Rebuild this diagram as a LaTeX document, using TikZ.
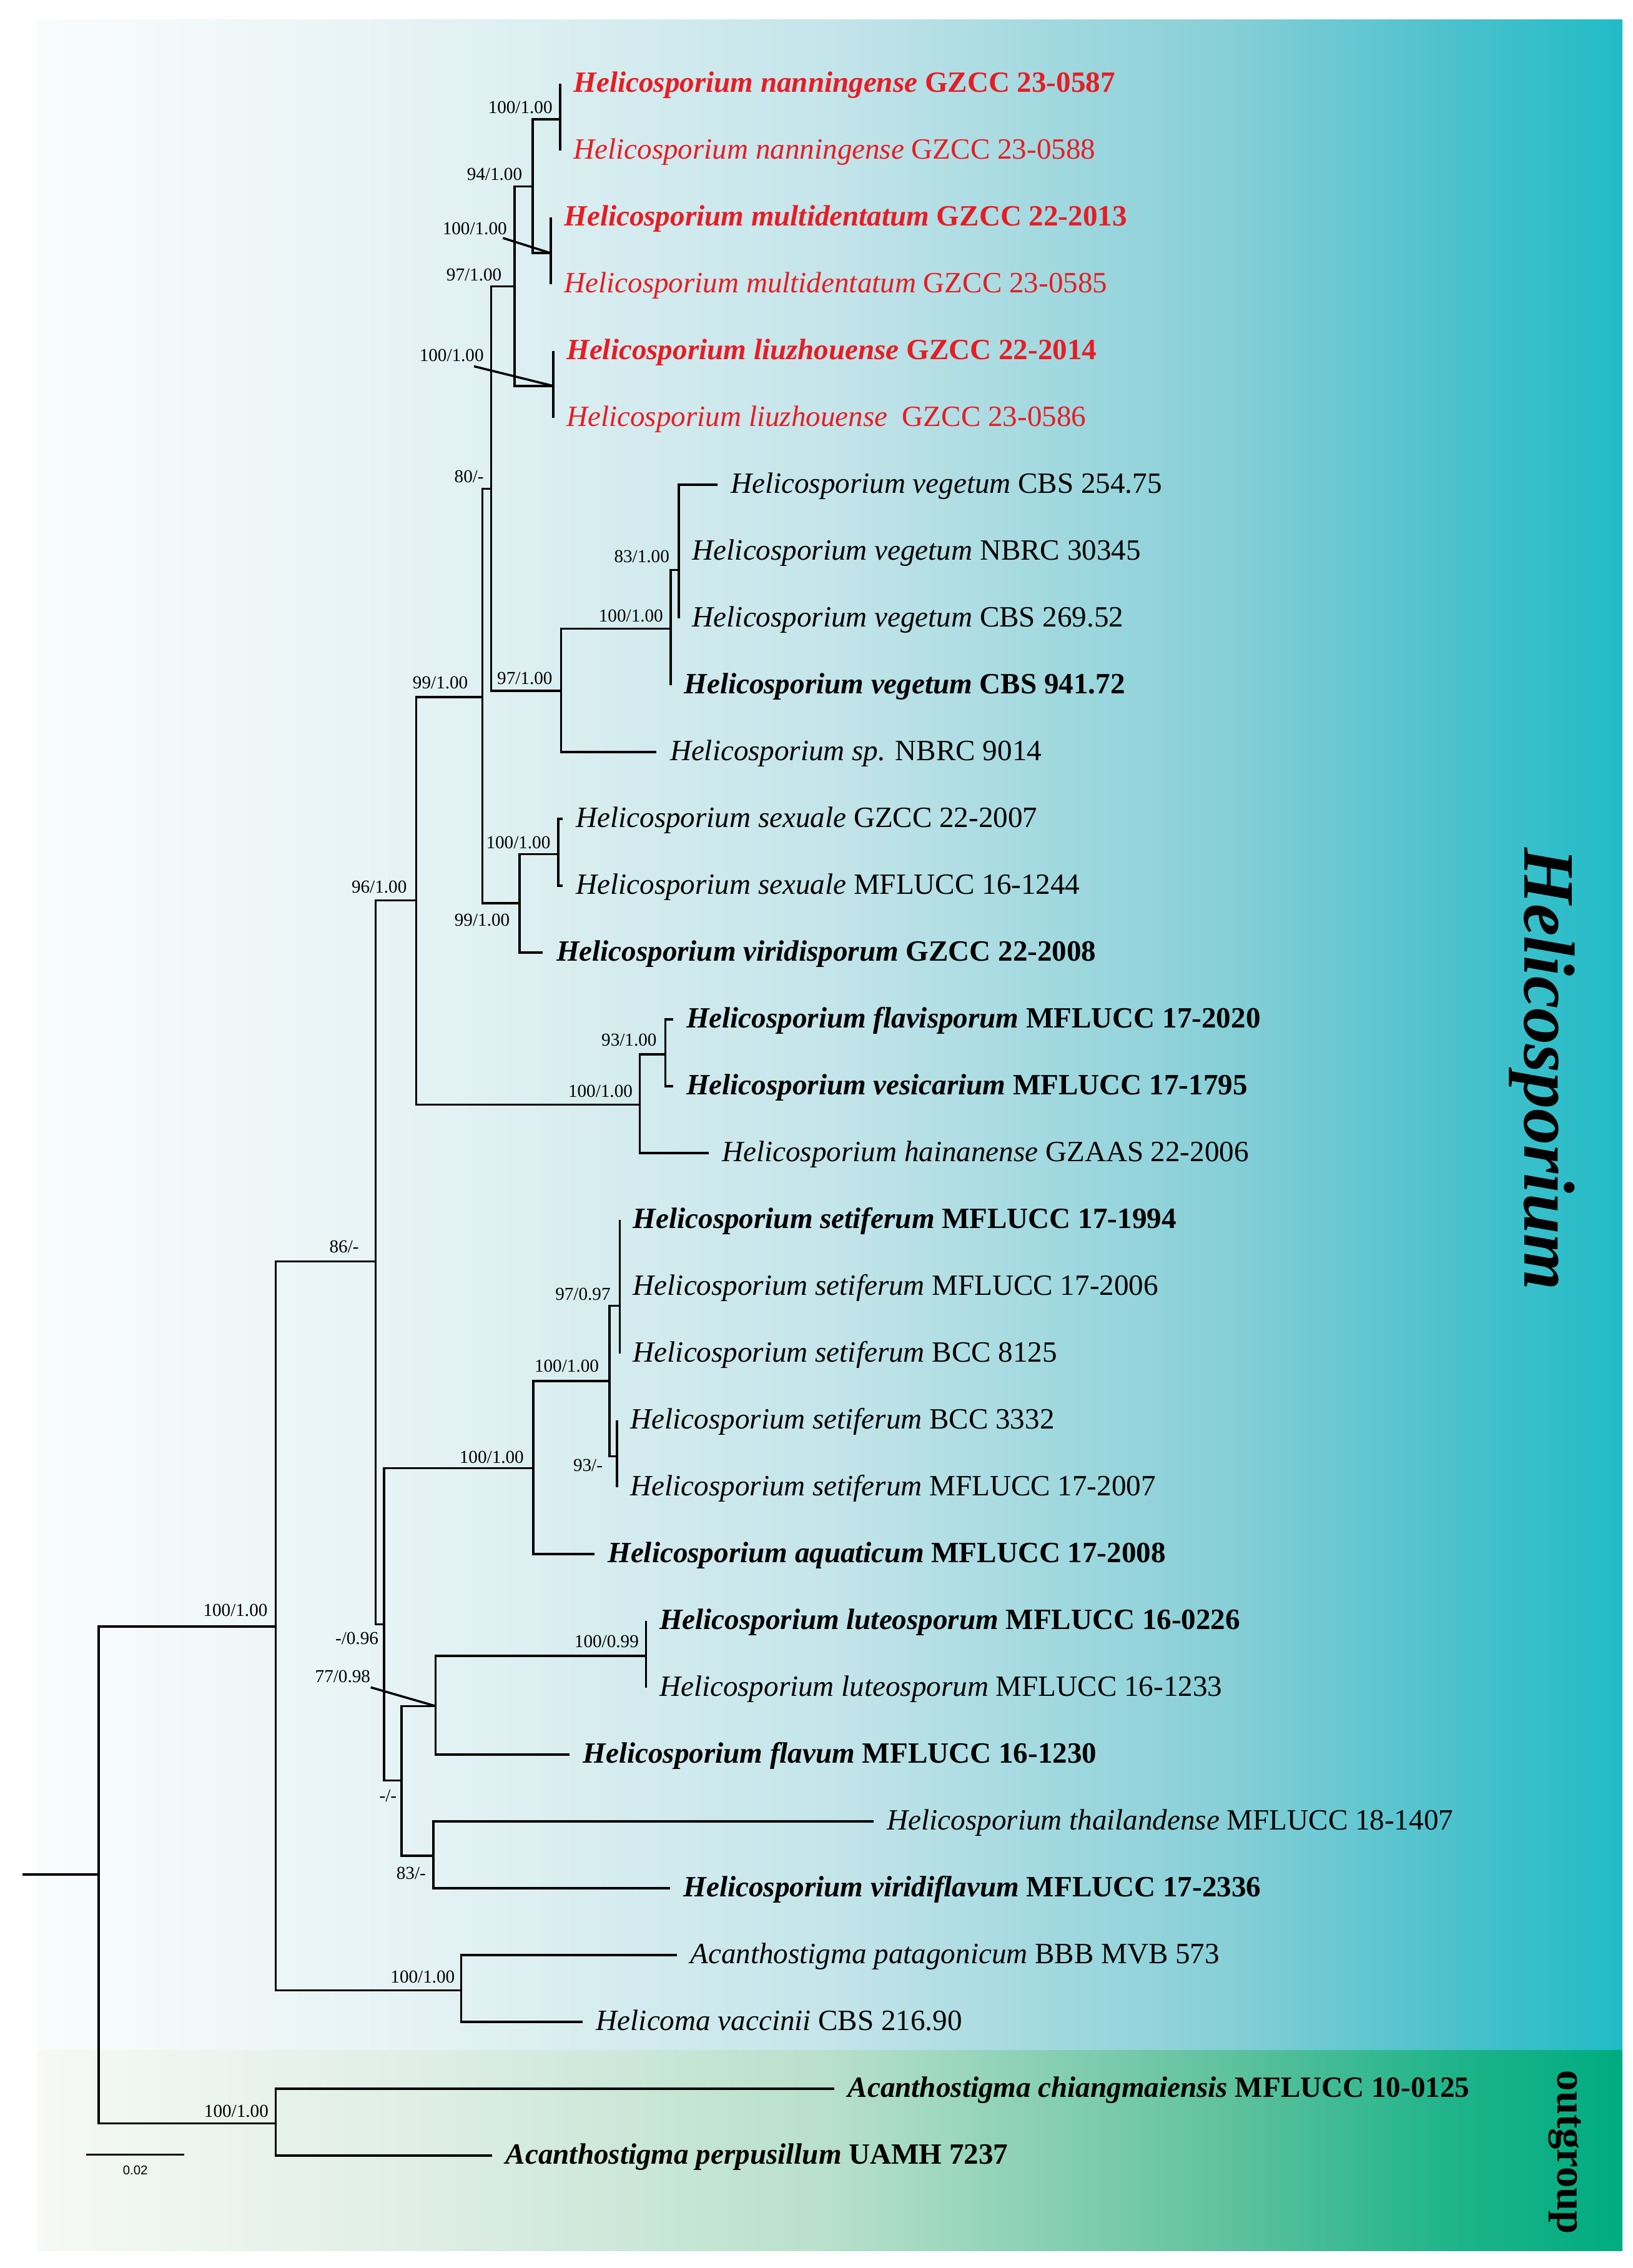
\documentclass[tikz,border=0pt]{standalone}
\usepackage{fontspec}
\setmainfont{Liberation Serif}
\newfontfamily\barfont{Liberation Sans}
\usetikzlibrary{calc}
\definecolor{hred}{RGB}{232,28,36}
\definecolor{hb0}{RGB}{250,252,252}
\definecolor{hb1}{RGB}{228,242,244}
\definecolor{hb2}{RGB}{196,229,234}
\definecolor{hb3}{RGB}{135,207,215}
\definecolor{hb4}{RGB}{72,193,204}
\definecolor{hb5}{RGB}{32,188,199}
\definecolor{og0}{RGB}{246,249,246}
\definecolor{og1}{RGB}{222,238,229}
\definecolor{og2}{RGB}{184,224,204}
\definecolor{og3}{RGB}{95,194,158}
\definecolor{og4}{RGB}{28,179,137}
\definecolor{og5}{RGB}{0,172,128}
\pgfdeclarehorizontalshading{heliback}{100bp}{color(0bp)=(hb0); color(25bp)=(hb0); color(37.5bp)=(hb1); color(50bp)=(hb2); color(62.5bp)=(hb3); color(70bp)=(hb4); color(75bp)=(hb5); color(100bp)=(hb5)}
\pgfdeclarehorizontalshading{outback}{100bp}{color(0bp)=(og0); color(25bp)=(og0); color(37.5bp)=(og1); color(50bp)=(og2); color(62.5bp)=(og3); color(70bp)=(og4); color(75bp)=(og5); color(100bp)=(og5)}
\newcommand{\taxonit}[2]{\textit{#1} #2}
\newcommand{\taxonbf}[2]{\textbf{\textit{#1} #2}}
\tikzset{
  br/.style={line width=1pt},
  taxon/.style={anchor=west, inner xsep=0.21cm, inner ysep=0pt, text height=10pt, text depth=2.5pt, font=\fontsize{13.4}{15}\selectfont},
  support/.style={inner sep=0pt, text height=5.6pt, text depth=0pt, font=\fontsize{8.3}{9}\selectfont},
}
\begin{document}
\begin{tikzpicture}[x=0.02316cm, y=-0.02316cm]
\useasboundingbox (0,0) rectangle (1129,1568);
% background panels
\shade[shading=heliback] (26,13.8) rectangle (1122,1417.5);
\shade[shading=outback] (26,1417.5) rectangle (1122,1556);
\node[rotate=-90, font=\fontsize{33}{36}\selectfont\bfseries\itshape] (clade) at (1066.5,739) {Helicosporium};
\node[rotate=-90, font=\fontsize{19}{21}\selectfont\bfseries] (outg) at (1082,1488) {outgroup};
% internal nodes
\coordinate (rs) at (15.4,1296);
\coordinate (r) at (68.3,1296);
\coordinate (L) at (190.7,1124.5);
\coordinate (Y) at (190.7,1468);
\coordinate (K) at (259.7,872);
\coordinate (Q) at (319,1376);
\coordinate (J) at (287.8,622.5);
\coordinate (R) at (265.6,1123);
\coordinate (D) at (333.5,482);
\coordinate (M) at (442.4,763.7);
\coordinate (C) at (339.6,338);
\coordinate (I) at (359.3,624.5);
\coordinate (B) at (355.8,198);
\coordinate (E) at (388,477.6);
\coordinate (A) at (368.3,129);
\coordinate (Lz) at (382.5,266.8);
\coordinate (Nn) at (387.3,82.4);
\coordinate (Mu) at (380.8,175);
\coordinate (F) at (463.7,434.6);
\coordinate (G) at (469.5,394);
\coordinate (H) at (386,590.5);
\coordinate (N) at (460.2,729);
\coordinate (S) at (368.7,1015);
\coordinate (V) at (277.6,1231);
\coordinate (P) at (421.4,954.7);
\coordinate (O) at (428.5,902.7);
\coordinate (T) at (426.7,1006.8);
\coordinate (U) at (301.2,1179.5);
\coordinate (X) at (299.7,1283);
\coordinate (W) at (446.7,1144.7);
\draw[br] (rs) -- (r);
\foreach \pn/\cn in {r/L, r/Y, L/K, L/Q, K/J, K/R, J/D, J/M, D/C, D/I, C/B, C/E, B/A, B/Lz, A/Nn, A/Mu, E/F, F/G, I/H, M/N, R/S, R/V, S/P, P/O, P/T, V/U, V/X, U/W}
  \draw[br] (\pn) |- (\cn);
% taxa
\foreach \k/\pa/\x/\y/\cl/\txt in {
  1/Nn/387.3/58/hred/{\taxonbf{Helicosporium nanningense}{GZCC 23-0587}},
  2/Nn/387.3/104.2/hred/{\taxonit{Helicosporium nanningense}{GZCC 23-0588}},
  3/Mu/380.8/150.4/hred/{\taxonbf{Helicosporium multidentatum}{GZCC 22-2013}},
  4/Mu/380.8/196.6/hred/{\taxonit{Helicosporium multidentatum}{GZCC 23-0585}},
  5/Lz/382.5/242.8/hred/{\taxonbf{Helicosporium liuzhouense}{GZCC 22-2014}},
  6/Lz/382.5/289/hred/{\taxonit{Helicosporium liuzhouense}{\ GZCC 23-0586}},
  7/G/496/335.2/black/{\taxonit{Helicosporium vegetum}{CBS 254.75}},
  8/G/469.5/381.4/black/{\taxonit{Helicosporium vegetum}{NBRC 30345}},
  9/G/469.5/427.6/black/{\taxonit{Helicosporium vegetum}{CBS 269.52}},
  10/F/463.7/473.8/black/{\taxonbf{Helicosporium vegetum}{CBS 941.72}},
  11/E/454/520/black/{\taxonit{Helicosporium sp.}{NBRC 9014}},
  12/H/389/566.2/black/{\taxonit{Helicosporium sexuale}{GZCC 22-2007}},
  13/H/389/612.4/black/{\taxonit{Helicosporium sexuale}{MFLUCC 16-1244}},
  14/I/375.4/658.6/black/{\taxonbf{Helicosporium viridisporum}{GZCC 22-2008}},
  15/N/465.3/704.8/black/{\taxonbf{Helicosporium flavisporum}{MFLUCC 17-2020}},
  16/N/465.3/751/black/{\taxonbf{Helicosporium vesicarium}{MFLUCC 17-1795}},
  17/M/490/797.2/black/{\taxonit{Helicosporium hainanense}{GZAAS 22-2006}},
  18/O/428.5/843.4/black/{\taxonbf{Helicosporium setiferum}{MFLUCC 17-1994}},
  19/O/428.5/889.6/black/{\taxonit{Helicosporium setiferum}{MFLUCC 17-2006}},
  20/O/428.5/935.8/black/{\taxonit{Helicosporium setiferum}{BCC 8125}},
  21/T/426.7/982/black/{\taxonit{Helicosporium setiferum}{BCC 3332}},
  22/T/426.7/1028.2/black/{\taxonit{Helicosporium setiferum}{MFLUCC 17-2007}},
  23/S/411/1074.4/black/{\taxonbf{Helicosporium aquaticum}{MFLUCC 17-2008}},
  24/W/446.7/1120.6/black/{\taxonbf{Helicosporium luteosporum}{MFLUCC 16-0226}},
  25/W/446.7/1166.8/black/{\taxonit{Helicosporium luteosporum}{MFLUCC 16-1233}},
  26/U/393.8/1213/black/{\taxonbf{Helicosporium flavum}{MFLUCC 16-1230}},
  27/X/604.2/1259.2/black/{\taxonit{Helicosporium thailandense}{MFLUCC 18-1407}},
  28/X/463.3/1305.4/black/{\taxonbf{Helicosporium viridiflavum}{MFLUCC 17-2336}},
  29/Q/468/1351.6/black/{\taxonit{Acanthostigma patagonicum}{BBB MVB 573}},
  30/Q/403/1397.8/black/{\taxonit{Helicoma vaccinii}{CBS 216.90}},
  31/Y/577/1444/black/{\taxonbf{Acanthostigma chiangmaiensis}{MFLUCC 10-0125}},
  32/Y/340.4/1490.2/black/{\taxonbf{Acanthostigma perpusillum}{UAMH 7237}}}
{
  \node[taxon, text=\cl] (t\k) at (\x,\y) {\txt};
  \draw[br] (\pa) |- (t\k.west);
}
% support values
\foreach \k/\x/\y/\v in {1/359.8/74/{100/1.00}, 2/342/120.4/{94/1.00}, 3/328.3/158/{100/1.00},
  4/327.8/189.7/{97/1.00}, 5/312.3/245.7/{100/1.00}, 6/324.4/329.2/{80/-}, 7/443.8/384.7/{83/1.00},
  8/436.3/425.5/{100/1.00}, 9/362.9/468.9/{97/1.00}, 10/304.5/471.8/{99/1.00}, 11/358.4/582.2/{100/1.00},
  12/333.4/636/{99/1.00}, 13/262.2/613/{96/1.00}, 14/435/719/{93/1.00}, 15/415.2/754.2/{100/1.00},
  16/238/862/{86/-}, 17/403.1/894.5/{97/0.97}, 18/391.9/944.2/{100/1.00}, 19/406.6/1012.9/{93/-},
  20/340/1007.4/{100/1.00}, 21/246.8/1132.5/{-/0.96}, 22/237/1159/{77/0.98}, 23/419.5/1134.7/{100/0.99},
  24/268.3/1241.3/{-/-}, 25/284.3/1295/{83/-}, 26/292.3/1366.5/{100/1.00}, 27/162.8/1113/{100/1.00},
  28/163.4/1459.3/{100/1.00}}
  \node[support] (s\k) at (\x,\y) {\v};
\draw[br] ([shift={(-3,2)}]s3.south east) -- (Mu);
\draw[br] ([shift={(-7,3)}]s5.south east) -- (Lz);
\draw[br] ([shift={(0,3)}]s22.south east) -- (U);
% scale bar
\coordinate (sb1) at (59.5,1489.6);
\coordinate (sb2) at (127.6,1489.6);
\draw[br] (sb1) -- (sb2);
\node[inner sep=0pt, font=\barfont\fontsize{5.8}{7}\selectfont] (sbl) at (93.6,1500.3) {0.02};
\end{tikzpicture}
\end{document}
